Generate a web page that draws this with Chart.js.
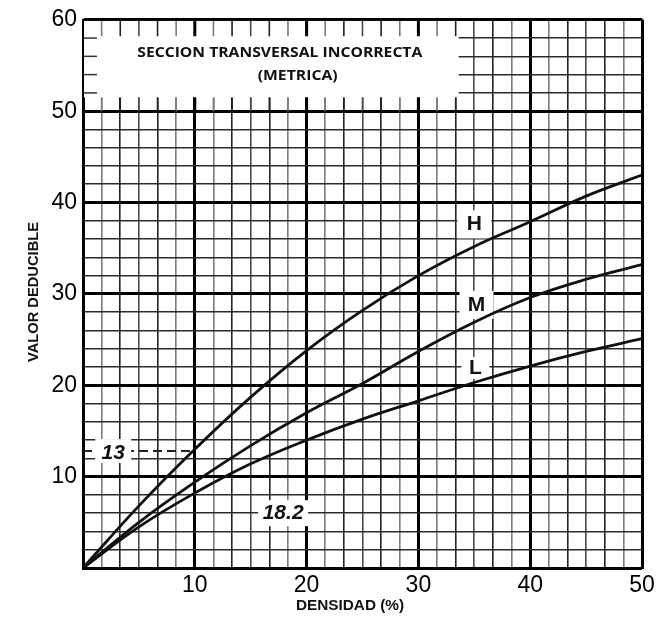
<!DOCTYPE html>
<html><head><meta charset="utf-8">
<script src="https://cdn.jsdelivr.net/npm/chart.js@4.4.1/dist/chart.umd.min.js"></script>
<style>html,body{margin:0;padding:0;background:#fff}canvas{display:block}</style>
</head><body>
<canvas id="c" width="661" height="621"></canvas>
<script>
// ---- data ----
const densidad = [0, 5, 10, 15, 20, 25, 30, 35, 40, 45, 50];
const valorH = [0, 6.8, 13.0, 18.7, 23.8, 28.2, 32.0, 35.2, 37.9, 40.7, 43.0];
const valorM = [0, 5.0, 9.4, 13.4, 17.0, 20.2, 23.7, 26.9, 29.6, 31.6, 33.2];
const valorL = [0, 4.5, 8.2, 11.4, 14.0, 16.3, 18.3, 20.3, 22.1, 23.7, 25.1];
const curveNames = ['H', 'M', 'L'];
const xTickLabels = [10, 20, 30, 40, 50];
const yTickLabels = [10, 20, 30, 40, 50, 60];
const titleLines = ['SECCION TRANSVERSAL INCORRECTA', '(METRICA)'];
const xTitle = 'DENSIDAD (%)';
const yTitle = 'VALOR DEDUCIBLE';
const markH10 = '13';
const markText2 = '18.2';

// ---- layout / style (not data) ----
const xGrid = Array.from({length: 31}, (_, k) => k * 10 / 6);
const NUM_FONT = '"Liberation Sans", Arial, sans-serif';
const minorShade = ['#000', '#7a7a7a', '#222', '#4a4a4a', '#222', '#7a7a7a'];

function xStyle(v) {
  const k = Math.round(v * 6 / 10);
  if (k % 6 === 0) return {w: 3, c: '#000'};
  return {w: 1.6, c: minorShade[k % 6]};
}
function yStyle(v) {
  if (Math.round(v) % 10 === 0) return {w: 3, c: '#000'};
  return {w: 1.6, c: '#2a2a2a'};
}
function fitText(ctx, text, cx, cy, width, font, rot) {
  ctx.save();
  ctx.font = font;
  ctx.textAlign = 'center';
  ctx.textBaseline = 'middle';
  const m = ctx.measureText(text).width;
  ctx.translate(cx, cy);
  if (rot) ctx.rotate(rot);
  ctx.scale(width / m, 1);
  ctx.fillStyle = '#111';
  ctx.fillText(text, 0, 0);
  ctx.restore();
}

const decor = {
  id: 'decor',
  beforeDatasetsDraw(chart) {
    const {ctx, scales: {x, y}} = chart;
    ctx.save();
    // white title box
    ctx.fillStyle = '#fff';
    const bx0 = x.getPixelForValue(0) + 1, bx1 = x.getPixelForValue(33.6);
    const by0 = y.getPixelForValue(60) + 1, by1 = y.getPixelForValue(51.5);
    ctx.fillRect(bx0, by0, bx1 - bx0, by1 - by0);
    // ticks around the box
    for (let k = 1; k <= 20; k++) {
      const v = xGrid[k];
      const s = xStyle(v);
      const px = x.getPixelForValue(v);
      ctx.strokeStyle = s.c; ctx.lineWidth = s.w;
      ctx.beginPath();
      ctx.moveTo(px, y.getPixelForValue(60)); ctx.lineTo(px, y.getPixelForValue(58.2));
      ctx.moveTo(px, y.getPixelForValue(51.5)); ctx.lineTo(px, y.getPixelForValue(50));
      ctx.stroke();
    }
    [52, 54, 56, 58].forEach(v => {
      const py = y.getPixelForValue(v);
      ctx.strokeStyle = '#333'; ctx.lineWidth = 1.5;
      ctx.beginPath(); ctx.moveTo(x.getPixelForValue(0), py); ctx.lineTo(x.getPixelForValue(1.25), py); ctx.stroke();
    });
    // dashed reference line at H(10)
    ctx.setLineDash([9, 5]);
    ctx.strokeStyle = '#222'; ctx.lineWidth = 2;
    const dy = y.getPixelForValue(12.8);
    ctx.beginPath(); ctx.moveTo(x.getPixelForValue(0), dy); ctx.lineTo(x.getPixelForValue(10), dy); ctx.stroke();
    ctx.setLineDash([]);
    // label backgrounds
    ctx.fillStyle = '#fff';
    const bgs = [[35.0, 37.6, 34, 28], [35.2, 28.8, 34, 28], [35.1, 21.9, 28, 22], [2.7, 12.8, 36, 24], [17.9, 6.0, 50, 26]];
    bgs.forEach(([vx, vy, w, h]) => {
      const px = x.getPixelForValue(vx), py = y.getPixelForValue(vy);
      ctx.fillRect(px - w / 2, py - h / 2, w, h);
    });
    // title text
    fitText(ctx, titleLines[0], x.getPixelForValue(17.6), y.getPixelForValue(56.4), 285, 'bold 15px "Open Sans", sans-serif');
    fitText(ctx, titleLines[1], x.getPixelForValue(19.2), y.getPixelForValue(53.9), 80, 'bold 15px "Open Sans", sans-serif');
    ctx.restore();
  },
  afterDatasetsDraw(chart) {
    const {ctx, scales: {x, y}, chartArea: a} = chart;
    ctx.save();
    ctx.fillStyle = '#111';
    ctx.textAlign = 'center'; ctx.textBaseline = 'middle';
    ctx.font = 'bold 21px ' + NUM_FONT;
    const pos = [[35.0, 37.6], [35.2, 28.8], [35.1, 21.9]];
    curveNames.forEach((n, i) => ctx.fillText(n, x.getPixelForValue(pos[i][0]), y.getPixelForValue(pos[i][1])));
    ctx.font = 'italic bold 21px ' + NUM_FONT;
    ctx.fillText(markH10, x.getPixelForValue(2.7), y.getPixelForValue(12.6));
    ctx.fillText(markText2, x.getPixelForValue(17.9), y.getPixelForValue(6.0));
    // frame
    ctx.strokeStyle = '#000'; ctx.lineWidth = 2;
    ctx.strokeRect(a.left, a.top, a.right - a.left, a.bottom - a.top);
    // axis titles
    fitText(ctx, xTitle, 350, 606, 108, 'bold 14px "Liberation Sans", Arial, sans-serif');
    fitText(ctx, yTitle, 34, 292, 140, 'bold 15px "Liberation Sans", Arial, sans-serif', -Math.PI / 2);
    ctx.restore();
  }
};

const mk = (vals) => densidad.map((d, i) => ({x: d, y: vals[i]}));
new Chart(document.getElementById('c'), {
  type: 'line',
  data: {
    datasets: [valorH, valorM, valorL].map((v, i) => ({
      label: curveNames[i], data: mk(v), borderColor: '#111', borderWidth: 2.8,
      pointRadius: 0, tension: 0.4, fill: false
    }))
  },
  options: {
    responsive: false, animation: false,
    layout: {padding: {top: 17, right: 19, left: 0, bottom: 0}},
    plugins: {legend: {display: false}, tooltip: {enabled: false}},
    scales: {
      x: {
        type: 'linear', min: 0, max: 50,
        afterBuildTicks: (s) => { s.ticks = xGrid.map(v => ({value: v})); },
        afterFit: (s) => { s.height = 53; },
        ticks: {
          autoSkip: false, maxRotation: 0, minRotation: 0, padding: 4, color: '#000',
          font: {family: NUM_FONT, size: 23},
          callback: (v) => { const r = Math.round(v); return (Math.abs(v - r) < 1e-6 && xTickLabels.includes(r)) ? String(r) : ''; }
        },
        grid: {drawTicks: false, color: (c) => xStyle(c.tick.value).c, lineWidth: (c) => xStyle(c.tick.value).w},
        border: {display: true, color: '#000', width: 2}
      },
      y: {
        min: 0, max: 60,
        afterBuildTicks: (s) => { const t = []; for (let v = 0; v <= 60; v += 2) t.push({value: v}); s.ticks = t; },
        afterFit: (s) => { s.width = 83; },
        ticks: {
          autoSkip: false, padding: 6, color: '#000',
          font: {family: NUM_FONT, size: 23},
          callback: (v) => yTickLabels.includes(v) ? String(v) : ''
        },
        grid: {drawTicks: false, color: (c) => yStyle(c.tick.value).c, lineWidth: (c) => yStyle(c.tick.value).w},
        border: {display: true, color: '#000', width: 2}
      }
    }
  },
  plugins: [decor]
});
</script>
</body></html>
